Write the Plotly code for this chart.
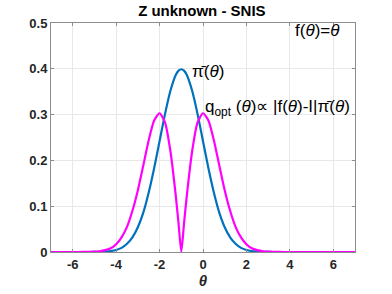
import plotly.graph_objects as go

theta = [-7.0, -6.5, -6.0, -5.5, -5.0, -4.75, -4.5, -4.25, -4.0, -3.75, -3.5, -3.25, -3.0,
         -2.75, -2.5, -2.25, -2.0, -1.75, -1.5, -1.25, -1.125, -1.0, -0.875, -0.75, -0.5, -0.25, 0.0,
         0.25, 0.5, 0.75, 1.0, 1.25, 1.5, 1.75, 2.0, 2.25, 2.5, 2.75, 3.0, 3.5, 4.0,
         4.5, 5.0, 6.0, 7.0]
pi_bar = [0.0, 0.0, 0.0, 0.0, 0.0001, 0.0002, 0.0009, 0.002, 0.0044, 0.009, 0.018, 0.032, 0.054,
          0.086, 0.130, 0.183, 0.242, 0.301, 0.352, 0.387, 0.396, 0.399, 0.396, 0.387, 0.352, 0.301, 0.242,
          0.183, 0.130, 0.086, 0.054, 0.032, 0.018, 0.009, 0.0044, 0.002, 0.0009, 0.0002, 0.0001, 0.0, 0.0,
          0.0, 0.0, 0.0, 0.0]
q_opt = [0.0, 0.0, 0.0, 0.0001, 0.0007, 0.0016, 0.004, 0.008, 0.017, 0.032, 0.055, 0.090, 0.135,
         0.189, 0.244, 0.287, 0.303, 0.283, 0.220, 0.121, 0.062, 0.0, 0.062, 0.121, 0.220, 0.283, 0.303,
         0.287, 0.244, 0.189, 0.135, 0.090, 0.055, 0.032, 0.017, 0.008, 0.004, 0.0016, 0.0007, 0.0001, 0.0,
         0.0, 0.0, 0.0, 0.0]
x_ticks = [-6, -4, -2, 0, 2, 4, 6]
y_ticks = [0, 0.1, 0.2, 0.3, 0.4, 0.5]
y_labels = ["0", "0.1", "0.2", "0.3", "0.4", "0.5"]

fig = go.Figure()
fig.add_trace(go.Scatter(x=theta, y=pi_bar, mode="lines", hoverinfo="skip",
                         line=dict(color="#0072BD", width=2.2, shape="spline", smoothing=0.8)))
fig.add_trace(go.Scatter(x=theta, y=q_opt, mode="lines", hoverinfo="skip",
                         line=dict(color="#FF00FF", width=2.2, shape="spline", smoothing=0.6)))

font_ann = dict(family="Liberation Sans, Arial, sans-serif", size=17, color="#000000")
fig.add_annotation(x=(342 - 51) / 304, y=(252 - 31) / 229, xref="paper", yref="paper",
                   text="f(<i>θ</i>)=<i>θ</i>",
                   showarrow=False, xanchor="right", yanchor="middle", font=font_ann)
fig.add_annotation(x=-0.6, y=0.395, xref="x", yref="y", text="π̄(<i>θ</i>)",
                   showarrow=False, xanchor="left", yanchor="middle", font=font_ann)
fig.add_annotation(x=0.0, y=0.314, xref="x", yref="y",
                   text="q<sub>opt</sub> (<i>θ</i>)∝ |f(<i>θ</i>)-I|π̄(<i>θ</i>)",
                   showarrow=False, xanchor="left", yanchor="middle", font=font_ann)

axis_common = dict(showline=True, linecolor="#8c8c8c", linewidth=1, mirror="allticks",
                   ticks="inside", ticklen=3, tickcolor="#8c8c8c", automargin=False,
                   showgrid=True, gridcolor="#e8e8e8", gridwidth=1, zeroline=False,
                   tickfont=dict(family="Liberation Sans, Arial, sans-serif", size=13,
                                 color="#262626", weight="bold"))
fig.update_xaxes(range=[-7, 7], tickvals=x_ticks, ticktext=[str(t) for t in x_ticks],
                 title=dict(text="<b><i>θ</i></b>", standoff=4,
                            font=dict(family="Liberation Sans, Arial, sans-serif", size=15,
                                      color="#262626")),
                 **axis_common)
fig.update_yaxes(range=[0, 0.5], tickvals=y_ticks, ticktext=y_labels, **axis_common)

fig.update_layout(
    width=392, height=294,
    margin=dict(l=51, r=37, t=23, b=42, autoexpand=False),
    paper_bgcolor="white", plot_bgcolor="white",
    showlegend=False, hovermode=False,
    title=dict(text="<b>Z unknown - SNIS</b>", x=0.515, xanchor="center", y=1 - 11 / 294,
               yanchor="middle",
               font=dict(family="Liberation Sans, Arial, sans-serif", size=15, color="#000000")),
)
fig.write_html("out.html", config={"displayModeBar": False},
               post_script="document.body.style.margin='0';document.body.style.padding='0';")
